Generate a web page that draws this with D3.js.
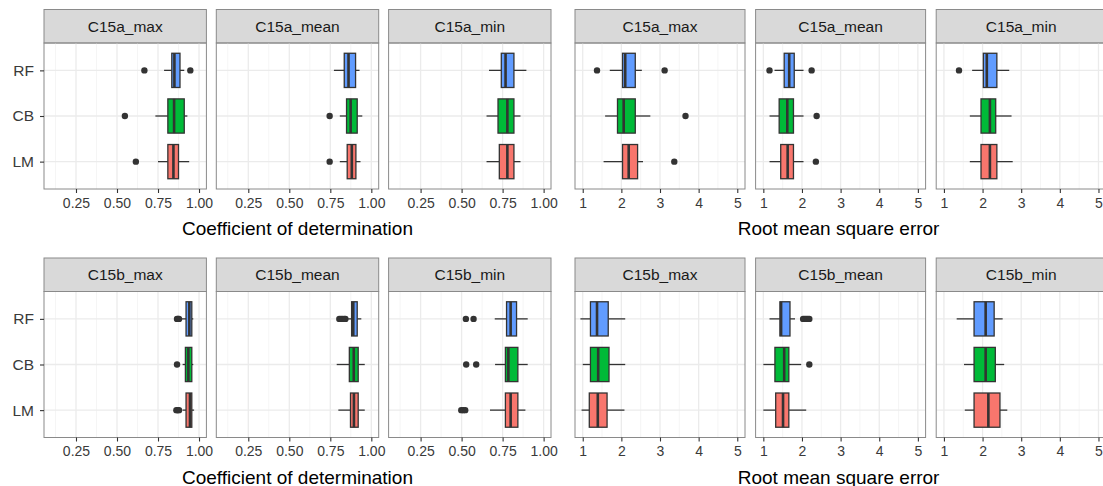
<!DOCTYPE html>
<html>
<head>
<meta charset="utf-8">
<script src="https://cdn.jsdelivr.net/npm/d3@7"></script>
<style>
  body { margin: 0; background: #fff; }
  svg { display: block; font-family: "Liberation Sans", Arial, sans-serif; }
</style>
</head>
<body>
<div id="chart"></div>
<script>
// models in top-to-bottom order, and the facet variables
const models = ["RF", "CB", "LM"];
const rowVars = [["C15a_max", "C15a_mean", "C15a_min"], ["C15b_max", "C15b_mean", "C15b_min"]];
const r2Ticks = [0.25, 0.5, 0.75, 1.0];
const r2Minor = [0.125, 0.375, 0.625, 0.875];
const rmseTicks = [1, 2, 3, 4, 5];
const rmseMinor = [1.5, 2.5, 3.5, 4.5];

// box stats per model (RF, CB, LM): [whisker low, q1, median, q3, whisker high]
const r2_C15a_max = [[0.787, 0.834, 0.85, 0.884, 0.91], [0.734, 0.81, 0.848, 0.91, 0.929], [0.75, 0.81, 0.844, 0.875, 0.94]];
const r2_C15a_mean = [[0.772, 0.835, 0.861, 0.904, 0.928], [0.808, 0.849, 0.874, 0.914, 0.945], [0.808, 0.853, 0.881, 0.906, 0.934]];
const r2_C15a_min = [[0.667, 0.742, 0.768, 0.819, 0.895], [0.652, 0.722, 0.779, 0.819, 0.859], [0.652, 0.73, 0.779, 0.819, 0.859]];
const r2_C15b_max = [[0.895, 0.921, 0.941, 0.956, 0.965], [0.90, 0.917, 0.935, 0.956, 0.965], [0.90, 0.921, 0.945, 0.956, 0.97]];
const r2_C15b_mean = [[0.853, 0.88, 0.89, 0.914, 0.939], [0.789, 0.866, 0.893, 0.92, 0.96], [0.799, 0.873, 0.894, 0.92, 0.96]];
const r2_C15b_min = [[0.702, 0.774, 0.799, 0.835, 0.903], [0.704, 0.767, 0.785, 0.843, 0.903], [0.673, 0.767, 0.799, 0.843, 0.889]];

const rmse_C15a_max = [[1.70, 2.03, 2.10, 2.36, 2.53], [1.58, 1.90, 2.06, 2.36, 2.75], [1.54, 2.03, 2.19, 2.42, 2.56]];
const rmse_C15a_mean = [[1.29, 1.54, 1.67, 1.80, 2.04], [1.16, 1.41, 1.62, 1.78, 2.04], [1.16, 1.45, 1.63, 1.78, 2.04]];
const rmse_C15a_min = [[1.73, 2.02, 2.11, 2.37, 2.69], [1.67, 1.96, 2.19, 2.34, 2.75], [1.67, 1.96, 2.19, 2.37, 2.78]];
const rmse_C15b_max = [[0.94, 1.20, 1.37, 1.66, 2.10], [1.0, 1.20, 1.40, 1.68, 2.10], [0.97, 1.17, 1.39, 1.63, 2.08]];
const rmse_C15b_mean = [[1.16, 1.43, 1.46, 1.69, 1.82], [1.0, 1.30, 1.54, 1.66, 1.98], [1.0, 1.32, 1.51, 1.66, 2.11]];
const rmse_C15b_min = [[1.33, 1.78, 2.08, 2.30, 2.52], [1.52, 1.78, 2.08, 2.33, 2.56], [1.54, 1.78, 2.15, 2.45, 2.64]];

// outliers per model (RF, CB, LM)
const r2_C15a_max_out = [[0.667, 0.947], [0.548], [0.615]];
const r2_C15a_mean_out = [[], [0.746], [0.746]];
const r2_C15a_min_out = [[], [], []];
const r2_C15b_max_out = [[0.866, 0.872, 0.878], [0.866], [0.862, 0.87, 0.878]];
const r2_C15b_mean_out = [[0.805, 0.815, 0.825, 0.835, 0.842], [], []];
const r2_C15b_min_out = [[0.526, 0.573], [0.528, 0.589], [0.498, 0.51, 0.522]];

const rmse_C15a_max_out = [[1.37, 3.12], [3.66], [3.37]];
const rmse_C15a_mean_out = [[1.16, 2.25], [2.38], [2.36]];
const rmse_C15a_min_out = [[1.39], [], []];
const rmse_C15b_max_out = [[], [], []];
const rmse_C15b_mean_out = [[2.03, 2.07, 2.11, 2.15, 2.19], [2.19], []];
const rmse_C15b_min_out = [[], [], []];

const fills = { RF: "#619CFF", CB: "#00BA38", LM: "#F8766D" };

const r2Stats = { C15a_max: [r2_C15a_max, r2_C15a_max_out], C15a_mean: [r2_C15a_mean, r2_C15a_mean_out], C15a_min: [r2_C15a_min, r2_C15a_min_out],
  C15b_max: [r2_C15b_max, r2_C15b_max_out], C15b_mean: [r2_C15b_mean, r2_C15b_mean_out], C15b_min: [r2_C15b_min, r2_C15b_min_out] };
const rmseStats = { C15a_max: [rmse_C15a_max, rmse_C15a_max_out], C15a_mean: [rmse_C15a_mean, rmse_C15a_mean_out], C15a_min: [rmse_C15a_min, rmse_C15a_min_out],
  C15b_max: [rmse_C15b_max, rmse_C15b_max_out], C15b_mean: [rmse_C15b_mean, rmse_C15b_mean_out], C15b_min: [rmse_C15b_min, rmse_C15b_min_out] };

const width = 1103, height = 486;
const svg = d3.select("#chart").append("svg").attr("width", width).attr("height", height);
svg.append("rect").attr("width", width).attr("height", height).attr("fill", "#fff");

const borderCol = "#8a8a8a";
const stripH = 33.5, panelH = 146;
const rowTops = [9.5, 258];

function drawPanel(x0, top, w, domain, ticks, minor, fmt, name, stats, showY) {
  const g = svg.append("g");
  const py = top + stripH;
  const x = d3.scaleLinear().domain(domain).range([x0, x0 + w]);
  const y = d3.scalePoint().domain(models).range([py, py + panelH]).padding(0.6);
  const bh = y.step() * 0.75;

  // strip
  g.append("rect").attr("x", x0).attr("y", top).attr("width", w).attr("height", stripH)
    .attr("fill", "#D9D9D9").attr("stroke", borderCol).attr("stroke-width", 1);
  g.append("text").attr("x", x0 + w / 2).attr("y", top + stripH / 2 + 5.5)
    .attr("text-anchor", "middle").attr("font-size", 15.5).attr("fill", "#1A1A1A").text(name);

  // grid
  g.selectAll(".minor").data(minor).enter().append("line")
    .attr("x1", d => x(d)).attr("x2", d => x(d)).attr("y1", py).attr("y2", py + panelH)
    .attr("stroke", "#F2F2F2").attr("stroke-width", 0.8);
  g.selectAll(".major").data(ticks).enter().append("line")
    .attr("x1", d => x(d)).attr("x2", d => x(d)).attr("y1", py).attr("y2", py + panelH)
    .attr("stroke", "#EBEBEB").attr("stroke-width", 1.3);
  g.selectAll(".ygrid").data(models).enter().append("line")
    .attr("x1", x0).attr("x2", x0 + w).attr("y1", d => y(d)).attr("y2", d => y(d))
    .attr("stroke", "#EBEBEB").attr("stroke-width", 1.3);

  // boxes
  const [box, out] = stats;
  models.forEach((m, i) => {
    const [lo, q1, med, q3, hi] = box[i];
    const cy = y(m);
    g.append("line").attr("x1", x(lo)).attr("x2", x(q1)).attr("y1", cy).attr("y2", cy)
      .attr("stroke", "#333").attr("stroke-width", 1.3);
    g.append("line").attr("x1", x(q3)).attr("x2", x(hi)).attr("y1", cy).attr("y2", cy)
      .attr("stroke", "#333").attr("stroke-width", 1.3);
    g.append("rect").attr("x", x(q1)).attr("y", cy - bh / 2).attr("width", x(q3) - x(q1)).attr("height", bh)
      .attr("fill", fills[m]).attr("stroke", "#333").attr("stroke-width", 1.3);
    g.append("line").attr("x1", x(med)).attr("x2", x(med)).attr("y1", cy - bh / 2).attr("y2", cy + bh / 2)
      .attr("stroke", "#333").attr("stroke-width", 2.6);
    g.selectAll(null).data(out[i]).enter().append("circle")
      .attr("cx", d => x(d)).attr("cy", cy).attr("r", 3.2).attr("fill", "#333");
  });

  // panel border
  g.append("rect").attr("x", x0).attr("y", py).attr("width", w).attr("height", panelH)
    .attr("fill", "none").attr("stroke", borderCol).attr("stroke-width", 1);

  // x axis
  const xa = g.append("g").attr("transform", `translate(0,${py + panelH})`)
    .call(d3.axisBottom(x).tickValues(ticks).tickFormat(fmt).tickSizeOuter(0).tickSizeInner(4).tickPadding(5));
  xa.select(".domain").remove();
  xa.selectAll(".tick line").attr("stroke", "#333").attr("stroke-width", 1.1);
  xa.selectAll(".tick text").attr("font-size", 14).attr("fill", "#3a3a3a")
    .attr("font-family", "Liberation Sans, Arial, sans-serif");

  if (showY) {
    const ya = g.append("g").attr("transform", `translate(${x0},0)`)
      .call(d3.axisLeft(y).tickSizeOuter(0).tickSizeInner(4).tickPadding(6));
    ya.select(".domain").remove();
    ya.selectAll(".tick line").attr("stroke", "#333").attr("stroke-width", 1.1);
    ya.selectAll(".tick text").attr("font-size", 15.5).attr("fill", "#3a3a3a")
      .attr("font-family", "Liberation Sans, Arial, sans-serif");
  }
}

const leftX = [44, 216.3, 388.6], leftW = 162.4;
const rightX = [575, 755.6, 936.2], rightW = 170;

rowVars.forEach((vars, r) => {
  const top = rowTops[r];
  vars.forEach((v, c) => {
    drawPanel(leftX[c], top, leftW, [0.055, 1.045], r2Ticks, r2Minor, d3.format(".2f"), v, r2Stats[v], c === 0);
    drawPanel(rightX[c], top, rightW, [0.8, 5.2], rmseTicks, rmseMinor, d3.format("d"), v, rmseStats[v], false);
  });
  const base = top + stripH + panelH + 46;
  svg.append("text").attr("x", (leftX[0] + leftX[2] + leftW) / 2).attr("y", base)
    .attr("text-anchor", "middle").attr("font-size", 19).attr("fill", "#000").text("Coefficient of determination");
  svg.append("text").attr("x", (rightX[0] + rightX[2] + rightW) / 2 - 2).attr("y", base)
    .attr("text-anchor", "middle").attr("font-size", 19).attr("fill", "#000").text("Root mean square error");
});
</script>
</body>
</html>
